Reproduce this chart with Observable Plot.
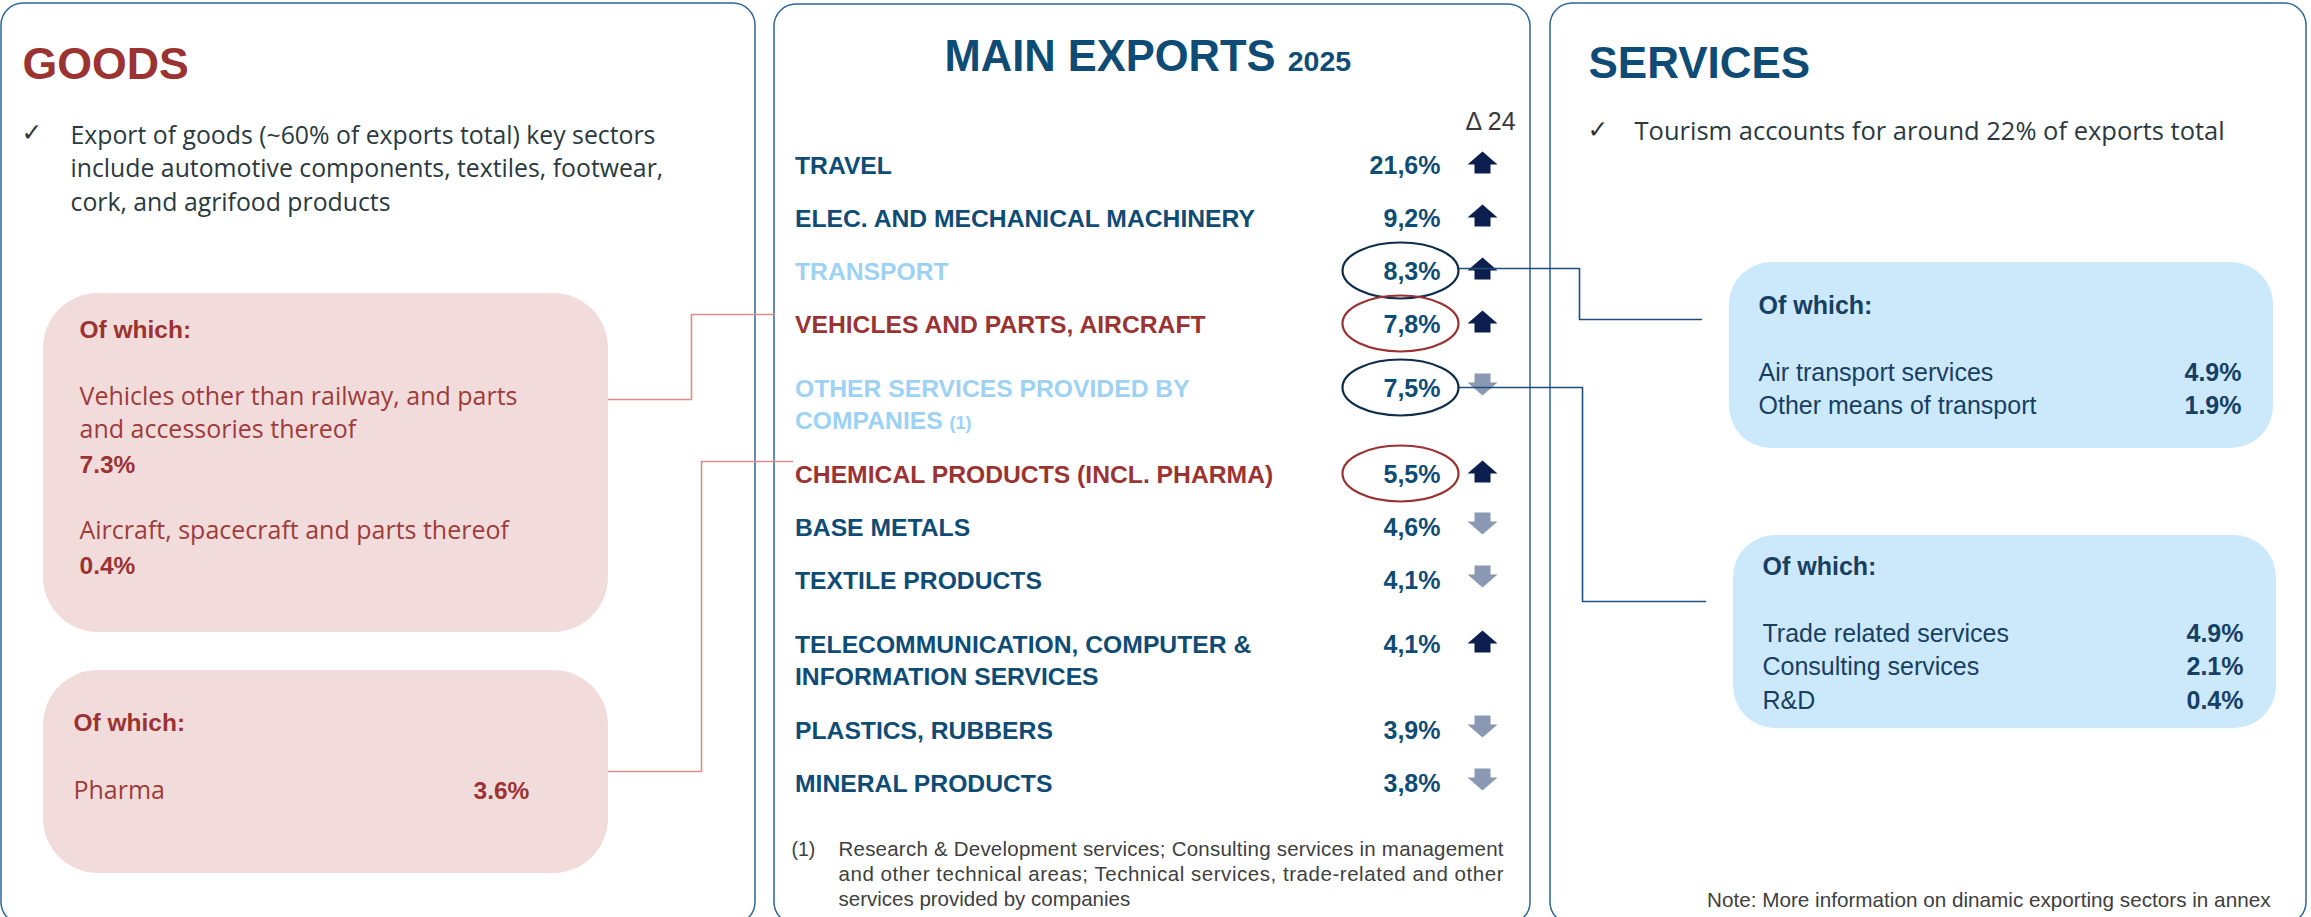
<!DOCTYPE html>
<html><head><meta charset="utf-8">
<script src="https://cdn.jsdelivr.net/npm/d3@7"></script>
<script src="https://cdn.jsdelivr.net/npm/@observablehq/plot@0.6"></script>
<style>
html,body{margin:0;padding:0;background:#fff;}
#chart svg{display:block;}
</style>
</head><body><div id="chart"></div>
<script>
// ---------------- DATA ----------------
const sectors = ["TRAVEL", "ELEC. AND MECHANICAL MACHINERY", "TRANSPORT", "VEHICLES AND PARTS, AIRCRAFT",
  "OTHER SERVICES PROVIDED BY\nCOMPANIES", "CHEMICAL PRODUCTS (INCL. PHARMA)", "BASE METALS", "TEXTILE PRODUCTS",
  "TELECOMMUNICATION, COMPUTER &\nINFORMATION SERVICES", "PLASTICS, RUBBERS", "MINERAL PRODUCTS"];
const shares = [21.6, 9.2, 8.3, 7.8, 7.5, 5.5, 4.6, 4.1, 4.1, 3.9, 3.8];
const trend = ["up", "up", "up", "up", "down", "up", "down", "down", "up", "down", "down"];
const highlight = [null, null, "services", "goods", "services", "goods", null, null, null, null, null];
const sectorNote = ["", "", "", "", "(1)", "", "", "", "", "", ""];

const goodsIntroLines = ["Export of goods (~60% of exports total) key sectors",
  "include automotive components, textiles, footwear,", "cork, and agrifood products"];
const servicesIntroLines = ["Tourism accounts for around 22% of exports total"];

const vehicleItems = ["Vehicles other than railway, and parts\nand accessories thereof", "Aircraft, spacecraft and parts thereof"];
const vehicleShares = [7.3, 0.4];
const pharmaItems = ["Pharma"];
const pharmaShares = [3.6];
const transportItems = ["Air transport services", "Other means of transport"];
const transportShares = [4.9, 1.9];
const companyItems = ["Trade related services", "Consulting services", "R&D"];
const companyShares = [4.9, 2.1, 0.4];

const footnoteLines = ["Research & Development services; Consulting services in management",
  "and other technical areas; Technical services, trade-related and other",
  "services provided by companies"];
const noteText = "Note: More information on dinamic exporting sectors in annex";

// ---------------- LAYOUT ----------------
const W = 2311, H = 917;
const F = "'Liberation Sans', Arial, 'DejaVu Sans', sans-serif";
const FO = "'Open Sans', 'Noto Sans', 'Liberation Sans', sans-serif";
const FC = "'DejaVu Sans', sans-serif";
const RED = "#9b3333", RED2 = "#9e3b3b", BLUE = "#0f4c75", LIGHT = "#9dd2f5", BOXBLUE = "#173f63";
const GRAY = "#2b3940", NOTE = "#404040";
const pctComma = v => v.toFixed(1).replace(".", ",") + "%";
const pctDot = v => v.toFixed(1) + "%";

const measure = (() => { const c = document.createElement("canvas").getContext("2d");
  return (t, size, weight) => { c.font = `${weight} ${size}px ${F}`; return c.measureText(t).width; }; })();

const texts = []; // {x,y,t,s,c,w,a,f}
const add = (x, y, t, s, c, w = "normal", a = "start", f = F) => texts.push({x, y, t, s, c, w, a, f});

// Panels
const panels = [{x1: 1, x2: 755, y1: 3, y2: 924}, {x1: 774, x2: 1530, y1: 4, y2: 924}, {x1: 1550, x2: 2306, y1: 3, y2: 924}];
const pinkBoxes = [{x1: 43, x2: 608, y1: 293, y2: 632}, {x1: 43, x2: 608, y1: 670, y2: 873}];
const blueBoxes = [{x1: 1729, x2: 2273, y1: 262, y2: 448}, {x1: 1733, x2: 2276, y1: 535, y2: 728}];

// Left panel
add(22, 78, "GOODS", 44.7, RED, "bold");
add(21, 140, "✓", 25, "#333", "normal", "start", FC);
goodsIntroLines.forEach((l, i) => add(70, 143 + i * 33.5, l, 24.8, GRAY, "normal", "start", FO));
add(79, 337, "Of which:", 24.5, RED, "bold");
{
  let y = 404;
  vehicleItems.forEach((it, i) => {
    const lines = it.split("\n");
    lines.forEach((l, j) => add(79, y + j * 33, l, 25, RED2, "normal", "start", FO));
    const vy = y + (lines.length - 1) * 33 + 35;
    add(79, vy, pctDot(vehicleShares[i]), 24.5, RED, "bold");
    y = vy + 66;
  });
}
add(73, 730, "Of which:", 24.5, RED, "bold");
pharmaItems.forEach((it, i) => { add(73, 798 + i * 34, it, 25, RED2, "normal", "start", FO); add(473, 798 + i * 34, pctDot(pharmaShares[i]), 24.5, RED, "bold"); });

// Middle panel
add(944, 70, "MAIN EXPORTS", 43.5, BLUE, "bold");
add(944 + measure("MAIN EXPORTS ", 43.5, "bold"), 70, "2025", 28.5, BLUE, "bold");
add(1465, 129, "Δ 24", 25, "#3a3a3a");

const rows = [];
{
  let yb = 173;
  sectors.forEach((s, i) => {
    const lines = s.split("\n");
    if (i > 0) { yb += 53; if (lines.length > 1) yb += 11; if (sectors[i - 1].includes("\n")) yb += 33; }
    rows.push({name: s, lines, share: shares[i], trend: trend[i], hl: highlight[i], note: sectorNote[i], base: yb});
  });
}
const labelColor = hl => hl === "services" ? LIGHT : hl === "goods" ? RED : BLUE;
rows.forEach(r => {
  r.lines.forEach((l, j) => add(794.5, r.base + j * 32, l, 24.7, labelColor(r.hl), "bold"));
  if (r.note) {
    const last = r.lines[r.lines.length - 1];
    add(794.5 + measure(last + " ", 24.7, "bold"), r.base + (r.lines.length - 1) * 32, r.note, 18, labelColor(r.hl), "bold");
  }
  add(1440, r.base, pctComma(r.share), 25, BLUE, "bold", "end");
});
add(791, 855, "(1)", 19.5, NOTE);
footnoteLines.forEach((l, i) => add(838, 855 + i * 25, l, 20.5, NOTE));

// Right panel
add(1588, 77, "SERVICES", 44, BLUE, "bold");
add(1587, 137, "✓", 25, "#333", "normal", "start", FC);
servicesIntroLines.forEach((l, i) => add(1634, 139 + i * 33.5, l, 25.5, GRAY, "normal", "start", FO));
add(1758, 313, "Of which:", 25, BOXBLUE, "bold");
transportItems.forEach((it, i) => { add(1758, 380 + i * 33, it, 25, BOXBLUE); add(2241, 380 + i * 33, pctDot(transportShares[i]), 25, BOXBLUE, "bold", "end"); });
add(1762, 574, "Of which:", 25, BOXBLUE, "bold");
companyItems.forEach((it, i) => { add(1762, 641 + i * 33.5, it, 25, BOXBLUE); add(2243, 641 + i * 33.5, pctDot(companyShares[i]), 25, BOXBLUE, "bold", "end"); });
add(2270, 906, noteText, 20.7, NOTE, "normal", "end");

// Symbols
const ellipseSym = (rx, ry) => ({draw(c) {
  const kx = rx * 0.5523, ky = ry * 0.5523;
  c.moveTo(rx, 0); c.bezierCurveTo(rx, ky, kx, ry, 0, ry); c.bezierCurveTo(-kx, ry, -rx, ky, -rx, 0);
  c.bezierCurveTo(-rx, -ky, -kx, -ry, 0, -ry); c.bezierCurveTo(kx, -ry, rx, -ky, rx, 0); c.closePath();
}});
const arrowSym = dir => ({draw(c) {
  const s = dir === "up" ? 1 : -1;
  c.moveTo(0, -11 * s); c.lineTo(15, 2 * s); c.lineTo(8, 2 * s); c.lineTo(8, 11 * s);
  c.lineTo(-8, 11 * s); c.lineTo(-8, 2 * s); c.lineTo(-15, 2 * s); c.closePath();
}});
const ELX = 1400, ERX = 58, ERY = 28, ARX = 1482;

// Connectors
const rowBy = n => rows.find(r => r.name.startsWith(n));
const pinkLinks = [];
{
  const rv = rowBy("VEHICLES"), rc = rowBy("CHEMICAL");
  const a = [[608, 399], [691, 399], [691, rv.base - 18], [774, rv.base - 18]];
  const b = [[608, 771], [701, 771], [701, rc.base - 21], [792, rc.base - 21]];
  a.forEach(([x, y]) => pinkLinks.push({x, y, id: "a"}));
  b.forEach(([x, y]) => pinkLinks.push({x, y, id: "b"}));
}
const navyLinks = [];
{
  const rt = rowBy("TRANSPORT"), ro = rowBy("OTHER");
  const yt = rt.base - 11, yo = ro.base - 9;
  [[ELX + ERX, yt], [1579, yt], [1579, 319], [1701, 319]].forEach(([x, y]) => navyLinks.push({x, y, id: "t"}));
  [[ELX + ERX, yo], [1582, yo], [1582, 601], [1705, 601]].forEach(([x, y]) => navyLinks.push({x, y, id: "o"}));
}

const textMarks = () => {
  const groups = d3.groups(texts, d => d.w + "|" + d.a + "|" + d.f);
  return groups.map(([k, data]) => Plot.text(data, {
    x: "x", y: "y", text: "t", fontSize: "s", fill: "c", fontWeight: data[0].w, textAnchor: data[0].a,
    fontFamily: data[0].f, lineAnchor: "bottom"
  }));
};

const svg = Plot.plot({
  width: W, height: H, margin: 0,
  x: {domain: [0, W], range: [0, W], axis: null},
  y: {domain: [0, H], range: [0, H], axis: null},
  style: {fontFamily: F, background: "#fff"},
  marks: [
    Plot.rect(panels, {x1: "x1", x2: "x2", y1: "y1", y2: "y2", rx: 22, ry: 22, fill: "#fff", stroke: "#2f6699", strokeWidth: 1.5}),
    Plot.rect(pinkBoxes, {x1: "x1", x2: "x2", y1: "y1", y2: "y2", rx: 55, ry: 55, fill: "#f2dcdb"}),
    Plot.rect(blueBoxes, {x1: "x1", x2: "x2", y1: "y1", y2: "y2", rx: 42, ry: 42, fill: "#cce9fc"}),
    Plot.dot(rows.filter(r => r.trend === "up"), {x: () => ARX, y: r => r.base - 11, symbol: arrowSym("up"), fill: "#0b1e4e", stroke: "none"}),
    Plot.dot(rows.filter(r => r.trend === "down"), {x: () => ARX, y: r => r.base - 12, symbol: arrowSym("down"), fill: "#8a98b3", stroke: "none"}),
    Plot.line(pinkLinks, {x: "x", y: "y", z: "id", stroke: "#de8b8b", strokeWidth: 1.6, curve: "linear"}),
    Plot.line(navyLinks, {x: "x", y: "y", z: "id", stroke: "#1f4e79", strokeWidth: 1.6, curve: "linear"}),
    Plot.dot(rows.filter(r => r.hl), {x: () => ELX, y: r => r.base - 9, symbol: ellipseSym(ERX, ERY), fill: "none",
      stroke: r => r.hl === "goods" ? "#9b3232" : "#0d2d4b", strokeWidth: 2.2}),
    ...textMarks()
  ]
});

// justify the first two footnote lines
svg.querySelectorAll("text").forEach(t => {
  if (t.textContent === footnoteLines[0] || t.textContent === footnoteLines[1]) {
    t.setAttribute("textLength", 665); t.setAttribute("lengthAdjust", "spacing");
  }
});
document.getElementById("chart").appendChild(svg);
</script>
</body></html>
